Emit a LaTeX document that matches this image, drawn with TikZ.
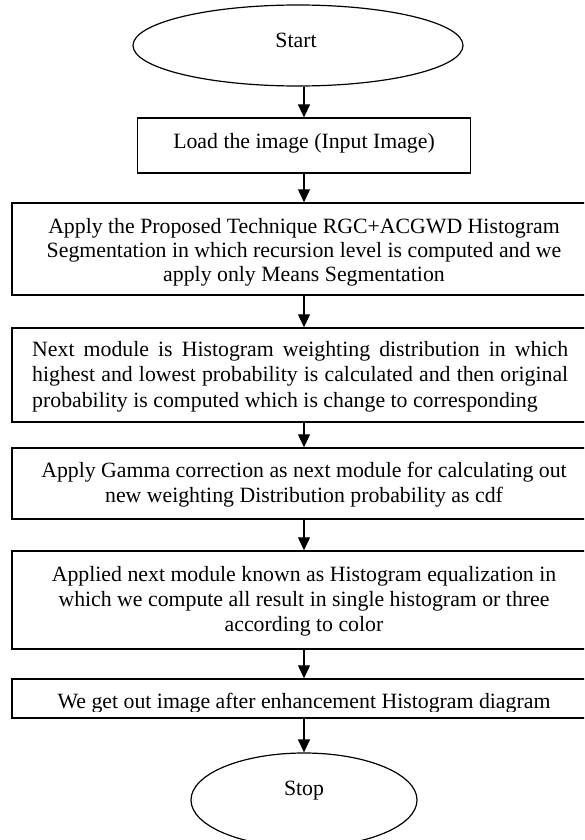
\documentclass[tikz,border=0pt]{standalone}
\usepackage{fontspec}
\setmainfont{Liberation Serif}
\usetikzlibrary{arrows.meta,shapes.geometric}
\tikzset{
  frame/.style={draw, rectangle, line width=1.4pt, inner sep=0pt},
  smallframe/.style={draw, rectangle, line width=1.2pt, inner sep=0pt},
  terminal/.style={draw, ellipse, line width=1.2pt, inner sep=0pt},
  caption/.style={inner sep=0pt, anchor=base},
  flow/.style={line width=1.2pt, -{Triangle[length=13pt,width=12pt]}},
}
% text block: width, line spacing, contents (first baseline is the box baseline)
\newcommand{\flowtext}[3]{\parbox[t]{#1}{\fontsize{21.8pt}{#2}\selectfont #3}}

\begin{document}
\begin{tikzpicture}[x=1pt,y=-1pt]
\useasboundingbox (0,0) rectangle (584,840);
\clip (0,0) rectangle (584,840);

% terminals
\node[terminal, minimum width=330pt, minimum height=81pt] (start) at (298,45.5) {};
\node[caption] (starttxt) at (296,47.5) {\fontsize{21.8pt}{25pt}\selectfont Start};

\node[terminal, minimum width=226pt, minimum height=94pt] (stop) at (304,800) {};
\node[caption] (stoptxt) at (304,795) {\fontsize{21.8pt}{25pt}\selectfont Stop};

% process boxes
\node[smallframe, minimum width=333pt, minimum height=55pt] (load) at (304,145.5) {};
\node[caption] (loadtxt) at (304,149) {\fontsize{21.8pt}{25pt}\selectfont Load the image (Input Image)};

\node[frame, minimum width=584pt, minimum height=92pt] (seg) at (304,249) {};
\begin{scope}
  \clip (0,200) rectangle (584,285.5);
  \node[caption] (segtxt) at (304,233.5) {\flowtext{560pt}{24.2pt}{\centering
    Apply the Proposed Technique RGC+ACGWD Histogram\\
    Segmentation in which recursion level is computed and we\\
    apply only Means Segmentation}};
\end{scope}

\node[frame, minimum width=584pt, minimum height=94pt] (weight) at (304,375) {};
\node[caption, anchor=base west] (weighttxt) at (32,356) {\flowtext{536pt}{25.5pt}{%
    Next module is Histogram weighting distribution in which\linebreak
    highest and lowest probability is calculated and then original\linebreak
    probability is computed which is change to corresponding}};

\node[frame, minimum width=584pt, minimum height=71pt] (gamma) at (304,483.5) {};
\node[caption] (gammatxt) at (304,477.3) {\flowtext{560pt}{25.5pt}{\centering
    Apply Gamma correction as next module for calculating out\\
    new weighting Distribution probability as cdf}};

\node[frame, minimum width=584pt, minimum height=98pt] (equal) at (304,600) {};
\node[caption] (equaltxt) at (304,581) {\flowtext{560pt}{25pt}{\centering
    Applied next module known as Histogram equalization in\\
    which we compute all result in single histogram or three\\
    according to color}};

\node[frame, minimum width=584pt, minimum height=39pt] (result) at (304,698.5) {};
\begin{scope}
  \clip (0,680) rectangle (584,711);
  \node[caption] (resulttxt) at (304,708) {\fontsize{21.8pt}{25pt}\selectfont
    We get out image after enhancement Histogram diagram};
\end{scope}

% connectors
\draw[flow] (start.south -| load.north) -- (load.north);
\draw[flow] (load.south) -- (seg.north);
\draw[flow] (seg.south) -- (weight.north);
\draw[flow] (weight.south) -- (gamma.north);
\draw[flow] (gamma.south) -- (equal.north);
\draw[flow] (equal.south) -- (result.north);
\draw[flow] (result.south) -- (stop.north);
\end{tikzpicture}
\end{document}
